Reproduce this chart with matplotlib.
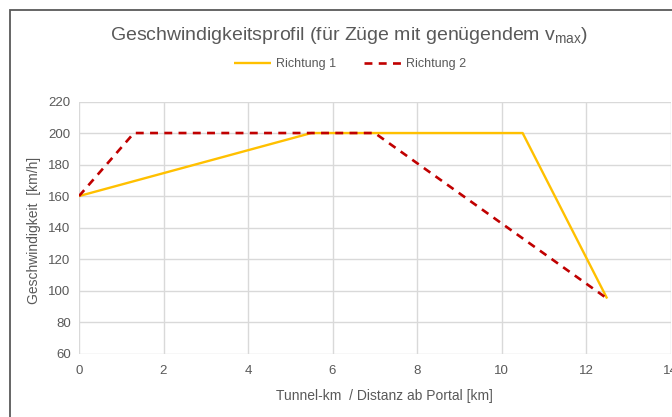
import matplotlib.pyplot as plt
from matplotlib.patches import Rectangle

# Geschwindigkeitsprofil je Fahrtrichtung
km_r1 = [0, 5.5, 10.5, 12.5]
v_r1 = [160, 200, 200, 95]
km_r2 = [0, 1.3, 7, 12.5]
v_r2 = [160, 200, 200, 95]

x_ticks = [0, 2, 4, 6, 8, 10, 12, 14]
y_ticks = [60, 80, 100, 120, 140, 160, 180, 200, 220]

plt.rcParams['font.family'] = ['Liberation Sans Narrow', 'Liberation Sans', 'DejaVu Sans']
txt = "#595959"
grid = "#d9d9d9"

W, H = 672, 417
fig = plt.figure(figsize=(W / 100, H / 100), dpi=100)

# Rahmen des Diagrammbereichs (rechts/unten ausserhalb)
fig.patches.append(Rectangle((9.5 / W, -0.1), 1.2, 1 - 9.5 / H + 0.1,
                             transform=fig.transFigure, fill=False,
                             edgecolor="#595959", linewidth=1.3))

left, right = 79 / W, 670.5 / W
bottom, top = 1 - 353.7 / H, 1 - 101.5 / H
ax = fig.add_axes([left, bottom, right - left, top - bottom])

ax.plot(km_r1, v_r1, color="#FFC000", linewidth=1.7, label="Richtung 1",
        solid_capstyle="butt", zorder=3)
ax.plot(km_r2, v_r2, color="#C00000", linewidth=1.9, linestyle=(0, (3, 2.4)),
        label="Richtung 2", zorder=4)

ax.set_xlim(0, 14)
ax.set_ylim(60, 220)
ax.set_xticks(x_ticks)
ax.set_yticks(y_ticks)
ax.grid(True, color=grid, linewidth=1)
for s in ax.spines.values():
    s.set_visible(False)
ax.tick_params(length=0, colors=txt, labelsize=9.5, pad=6)
ax.tick_params(axis="x", pad=8)
for lab in ax.get_xticklabels():
    lab.set_clip_on(False)

fig.text(349 / W, 1 - 35 / H, r"Geschwindigkeitsprofil (für Züge mit genügendem v$_{\mathregular{max}}$)",
         ha="center", va="center", fontsize=14, color=txt)
fig.text(384 / W, 1 - 396 / H, "Tunnel-km  / Distanz ab Portal [km]",
         ha="center", va="center", fontsize=10, color=txt)
fig.text(34 / W, 1 - 230 / H, "Geschwindigkeit  [km/h]", rotation=90,
         ha="center", va="center", fontsize=10, color=txt)

fig.legend(loc="center", bbox_to_anchor=(350 / W, 1 - 64 / H), ncol=2,
           frameon=False, fontsize=9, labelcolor=txt, handlelength=3.0,
           columnspacing=2.2, handletextpad=0.4)

fig.savefig("out.png", dpi=100)
